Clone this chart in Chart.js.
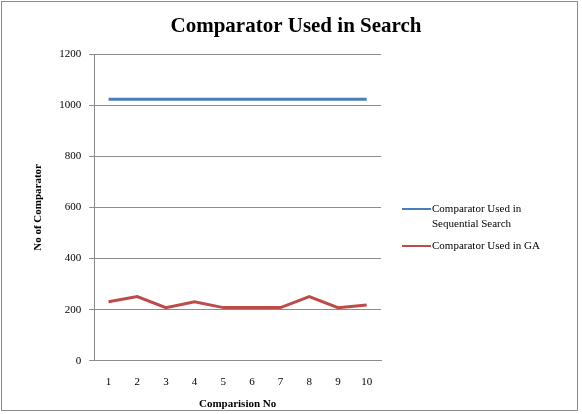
<!DOCTYPE html>
<html>
<head>
<meta charset="utf-8">
<script src="https://cdn.jsdelivr.net/npm/chart.js@4/dist/chart.umd.min.js"></script>
<style>
  html, body { margin: 0; padding: 0; background: #fff; }
  #wrap { width: 582px; height: 414px; position: relative; }
</style>
</head>
<body>
<div id="wrap"><canvas id="chart" width="582" height="414"></canvas></div>
<script>
const labels = ['1','2','3','4','5','6','7','8','9','10'];
const sequential = [1023, 1023, 1023, 1023, 1023, 1023, 1023, 1023, 1023, 1023];
const ga = [231, 251, 208, 231, 208, 208, 208, 251, 208, 218];
const legendNames = [['Comparator Used in', 'Sequential Search'], ['Comparator Used in GA']];
const chartTitle = 'Comparator Used in Search';
const xTitle = 'Comparision No';

const SERIF = '"Liberation Serif", "DejaVu Serif", serif';

// border, titles, side legend
const extras = {
    id: 'extras',
    afterDraw(chart) {
        const ctx = chart.ctx;
        const area = chart.chartArea;
        ctx.save();
        ctx.strokeStyle = '#8c8c8c';
        ctx.lineWidth = 1;
        ctx.strokeRect(1.5, 1.5, 576, 409);

        ctx.fillStyle = '#000';
        ctx.font = 'bold 21px ' + SERIF;
        ctx.textAlign = 'center';
        ctx.textBaseline = 'middle';
        ctx.fillText(chartTitle, 296, 27);

        ctx.font = 'bold 11px ' + SERIF;
        ctx.fillText(xTitle, (area.left + area.right) / 2, 404);

        ctx.textAlign = 'left';
        ctx.font = '11px ' + SERIF;
        const ys = [209, 246];
        chart.data.datasets.forEach((ds, i) => {
            const y = ys[i];
            ctx.strokeStyle = ds.borderColor;
            ctx.lineWidth = 2;
            ctx.beginPath();
            ctx.moveTo(402, y);
            ctx.lineTo(431, y);
            ctx.stroke();
            legendNames[i].forEach((t, j) => ctx.fillText(t, 432, y + j * 15));
        });
        ctx.restore();
    }
};

new Chart(document.getElementById('chart'), {
    type: 'line',
    data: {
        labels: labels,
        datasets: [
            { label: 'Comparator Used in Sequential Search', data: sequential,
              borderColor: '#4a7ebb', borderWidth: 3, pointRadius: 0, tension: 0 },
            { label: 'Comparator Used in GA', data: ga,
              borderColor: '#be4b48', borderWidth: 3, pointRadius: 0, tension: 0 }
        ]
    },
    options: {
        responsive: false,
        animation: false,
        layout: { padding: { left: 28, right: 201, top: 54, bottom: 10 } },
        plugins: {
            legend: { display: false },
            tooltip: { enabled: false }
        },
        scales: {
            x: {
                offset: true,
                grid: { display: false, drawTicks: false },
                border: { color: '#8c8c8c' },
                ticks: { color: '#000', font: { family: SERIF, size: 11 }, padding: 15, maxRotation: 0 }
            },
            y: {
                min: 0, max: 1200,
                ticks: { stepSize: 200, color: '#000', font: { family: SERIF, size: 11 }, padding: 8,
                         callback: v => String(v) },
                grid: { color: '#8c8c8c', tickLength: 5 },
                border: { color: '#8c8c8c' },
                title: { display: true, text: 'No of Comparator', color: '#000',
                         font: { family: SERIF, size: 11, weight: 'bold' }, padding: { bottom: 6 } }
            }
        }
    },
    plugins: [extras]
});
</script>
</body>
</html>
